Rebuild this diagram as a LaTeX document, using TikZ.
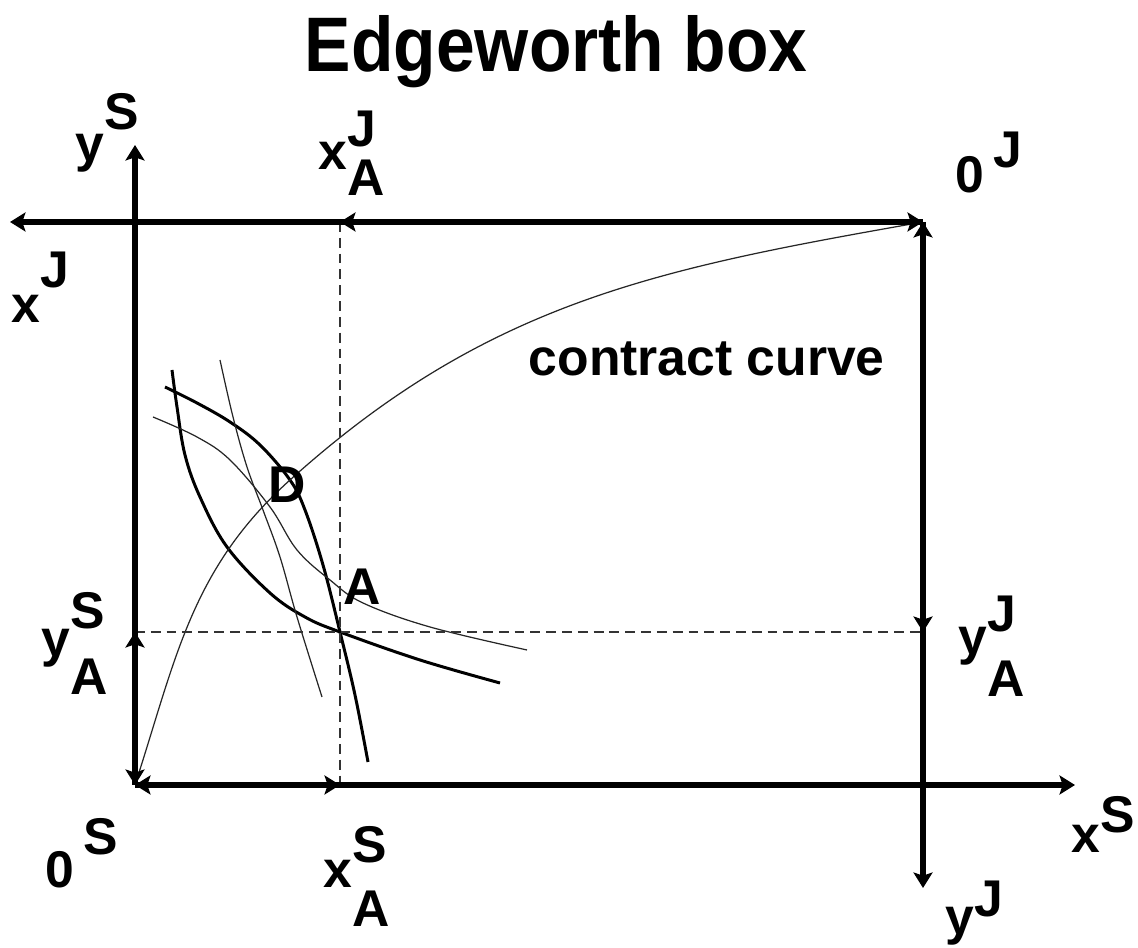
\documentclass[tikz,border=0pt]{standalone}
\usepackage{fontspec}
\setmainfont{Liberation Sans}
\usetikzlibrary{positioning, arrows.meta, calc}

% label with raised superscript and lowered subscript, all in one size
\newcommand{\lblfont}{\fontsize{14.7}{17.6}\selectfont\bfseries}
\newcommand{\supsub}[5]{#1\rlap{\raisebox{#4}{#2}}\raisebox{-#5}{#3}}
\newcommand{\supon}[3][0.5em]{#2\raisebox{#1}{#3}}

\begin{document}
\begin{tikzpicture}[
        % heavy axes of the box
        axis/.style={
            line width=1.7pt,
            -{Stealth[length=4.4pt,width=5.4pt,inset=0.9pt]}
        },
        both/.style={
            line width=1.7pt,
            {Stealth[length=4.4pt,width=5.4pt,inset=0.9pt]}-{Stealth[length=4.4pt,width=5.4pt,inset=0.9pt]}
        },
        guide/.style={dashed, dash pattern=on 2.8pt off 1.7pt, line width=0.4pt, black!80},
        thickcurve/.style={line width=0.85pt},
        thincurve/.style={line width=0.35pt, black!85},
        axlabel/.style={font=\lblfont, inner sep=0pt, anchor=base west}
    ]

    \useasboundingbox (-1.35,-1.63) rectangle (10.03,7.85);

    % ==========================================
    % CORNERS AND ENDPOINTS
    % ==========================================
    \coordinate (O) at (0,0);
    \coordinate (OJ) at (7.88,5.63);
    \coordinate (xSend) at (9.40,0);
    \coordinate (ySend) at (0,6.40);
    \coordinate (xJend) at (-1.25,5.63);
    \coordinate (yJend) at (7.88,-1.03);
    \coordinate (xAS) at (2.05,0);
    \coordinate (yAS) at (0,1.53);
    \coordinate (xAJ) at (2.05,5.63);
    \coordinate (yAJ) at (7.88,1.53);
    \coordinate (A) at (2.05,1.53);
    \coordinate (Dpt) at (1.55,3.05);

    % ==========================================
    % INDIFFERENCE CURVES
    % ==========================================
    \draw[thickcurve] plot[smooth, tension=0.6] coordinates {
        (0.37,4.15) (0.42,3.78) (0.50,3.30) (0.65,2.88) (0.92,2.38)
        (1.35,1.92) (1.70,1.68) (2.05,1.53) (2.85,1.25) (3.65,1.02)};
    \draw[thickcurve] plot[smooth, tension=0.6] coordinates {
        (0.30,3.98) (0.62,3.82) (0.95,3.63) (1.25,3.40) (1.55,3.05)
        (1.70,2.75) (1.88,2.20) (2.05,1.53) (2.20,0.90) (2.33,0.23)};
    \draw[thincurve] plot[smooth, tension=0.6] coordinates {
        (0.18,3.68) (0.62,3.48) (0.95,3.25) (1.35,2.78) (1.62,2.35)
        (1.95,2.05) (2.28,1.82) (2.95,1.58) (3.92,1.35)};
    \draw[thincurve] plot[smooth, tension=0.6] coordinates {
        (0.85,4.25) (0.98,3.68) (1.12,3.18) (1.28,2.75) (1.45,2.28)
        (1.62,1.68) (1.87,0.88)};

    % contract curve
    \draw[thincurve] (O) to[out=72,in=222] (Dpt) to[out=42,in=190] (OJ);

    % endowment guides
    \draw[guide] (xAJ) -- (xAS);
    \draw[guide] (yAS) -- (yAJ);

    % ==========================================
    % AXES
    % ==========================================
    \draw[axis] (O) -- (xSend);
    \draw[axis] (O) -- (ySend);
    \draw[axis] (OJ) -- (xJend);
    \draw[axis] (OJ) -- (yJend);
    \draw[both] (O) -- (xAS);
    \draw[both] (O) -- (yAS);
    \draw[both] (OJ) -- (xAJ);
    \draw[both] (OJ) -- (yAJ);

    % ==========================================
    % LABELS
    % ==========================================
    \node[anchor=base, inner sep=0pt, xscale=0.9, font=\fontsize{22}{26}\selectfont\bfseries] (title) at (4.21,7.13) {Edgeworth box};

    \node[axlabel] (ySlbl) at (-0.60,6.23) {\supon[0.62em]{y}{S}};
    \node[axlabel] (xAJlbl) at (1.83,6.15) {\supsub{x}{J}{A}{0.45em}{0.5em}};
    \node[axlabel] (oJlbl) at (8.20,5.92) {\supon{0\,}{J}};
    \node[axlabel] (xJlbl) at (-1.24,4.62) {\supon[0.68em]{x}{J}};
    \node[axlabel] (yASlbl) at (-0.94,1.28) {\supsub{y}{S}{A}{0.55em}{0.72em}};
    \node[axlabel] (oSlbl) at (-0.90,-1.03) {\supon[0.64em]{0\,}{S}};
    \node[axlabel] (xASlbl) at (1.88,-1.03) {\supsub{x}{S}{A}{0.5em}{0.75em}};
    \node[axlabel] (xSlbl) at (9.36,-0.68) {\supon[0.4em]{x}{S}};
    \node[axlabel] (yJlbl) at (8.10,-1.50) {\supon[0.36em]{y}{J}};
    \node[axlabel] (yAJlbl) at (8.23,1.30) {\supsub{y}{J}{A}{0.45em}{0.8em}};

    \node[axlabel] (cclbl) at (3.93,4.09) {contract curve};
    \node[axlabel] (Dlbl) at (1.33,2.82) {D};
    \node[axlabel] (Albl) at (2.08,1.80) {A};

\end{tikzpicture}
\end{document}
